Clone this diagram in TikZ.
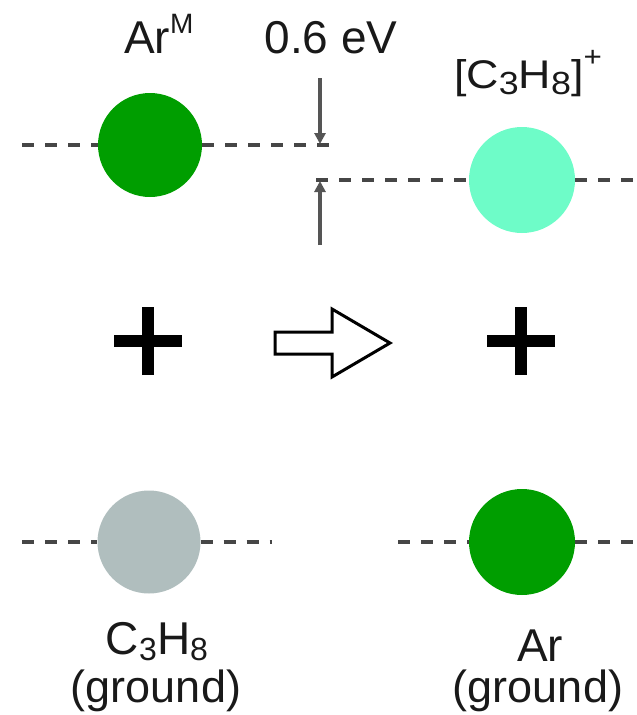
\documentclass[tikz,border=0pt]{standalone}
\usepackage{fontspec}
\setmainfont{Liberation Sans}
\usetikzlibrary{arrows.meta}
\definecolor{argreen}{RGB}{0,158,0}
\definecolor{ioncyan}{RGB}{110,252,200}
\definecolor{propgrey}{RGB}{176,190,190}
\definecolor{dashgrey}{RGB}{70,70,70}
\definecolor{arrgrey}{RGB}{85,85,85}
\definecolor{txt}{RGB}{25,25,25}
\newcommand{\mysub}[1]{\raisebox{-0.15em}{\fontsize{32}{32}\selectfont #1}}
\newcommand{\mysup}[1]{\raisebox{0.42em}{\fontsize{28}{28}\selectfont #1}}
\tikzset{
  ball/.style={circle, inner sep=0pt, minimum size=#1, draw=none},
  level/.style={draw=dashgrey, line width=3.5pt, dash pattern=on 12pt off 11pt},
  gap/.style={draw=arrgrey, line width=4pt, -{Triangle[length=11pt,width=11pt]}},
  plusbar/.style={line width=12pt, draw=black},
  lbl/.style={inner sep=0pt, text=txt, font=\fontsize{46}{50}\selectfont},
  lblg/.style={inner sep=0pt, text=txt, font=\fontsize{45}{50}\selectfont},
  lblsmall/.style={inner sep=0pt, text=txt, font=\fontsize{40}{44}\selectfont, xscale=1.12},
  hollow/.style={draw=black, line width=3pt, fill=white, line join=miter}
}
\begin{document}
\begin{tikzpicture}[x=1pt,y=-1pt]
\useasboundingbox (0,0) rectangle (637,715);
% balls
\node[ball=104pt, fill=argreen] (arm) at (150,145) {};
\node[ball=106pt, fill=ioncyan] (ion) at (522,180) {};
\node[ball=103pt, fill=propgrey] (prop) at (149,542) {};
\node[ball=106pt, fill=argreen] (ar) at (522,542) {};
% level coordinates
\coordinate (l1a) at (22,145);
\coordinate (l1b) at (330,145);
\coordinate (l2a) at (316,180);
\coordinate (l2b) at (637,180);
\coordinate (l3a) at (22,542);
\coordinate (l3b) at (272,542);
\coordinate (l4a) at (398,542);
\coordinate (l4b) at (637,542);
\draw[level] (l1a) -- (arm.west);
\draw[level] (arm.east) -- (l1b);
\draw[level] (l2a) -- (ion.west);
\draw[level] (ion.east) -- (l2b);
\draw[level] (l3a) -- (prop.west);
\draw[level] (prop.east) -- (l3b);
\draw[level] (l4a) -- (ar.west);
\draw[level] (ar.east) -- (l4b);
% energy gap arrows
\coordinate (g1a) at (320,78);
\coordinate (g1b) at (320,144);
\coordinate (g2a) at (320,245);
\coordinate (g2b) at (320,181);
\draw[gap] (g1a) -- (g1b);
\draw[gap] (g2a) -- (g2b);
% labels
\node[lbl, anchor=base west] (tarm) at (124,53) {Ar\mysup{M}};
\node[lbl, anchor=base] (tgap) at (331,53) {0.6 eV};
\node[lblsmall, anchor=base] (tion) at (528,88) {[C\mysub{3}H\mysub{8}]\raisebox{0.55em}{\fontsize{28}{28}\selectfont +}};
\node[lbl, anchor=base] (tprop) at (157,654) {C\mysub{3}H\mysub{8}};
\node[lblg, anchor=base] (tpropg) at (156,702) {(ground)};
\node[lbl, anchor=base] (tar) at (540,661) {Ar};
\node[lblg, anchor=base] (targ) at (538,702) {(ground)};
% plus signs
\coordinate (p1) at (148,341);
\coordinate (p2) at (521,341);
\draw[plusbar] ([xshift=-34pt]p1) -- ([xshift=34pt]p1);
\draw[plusbar] ([yshift=-34pt]p1) -- ([yshift=34pt]p1);
\draw[plusbar] ([xshift=-34pt]p2) -- ([xshift=34pt]p2);
\draw[plusbar] ([yshift=-34pt]p2) -- ([yshift=34pt]p2);
% hollow reaction arrow
\draw[hollow] (275,332) -- (332,332) -- (332,309) -- (390,343) -- (332,377) -- (332,354) -- (275,354) -- cycle;
\end{tikzpicture}
\end{document}
